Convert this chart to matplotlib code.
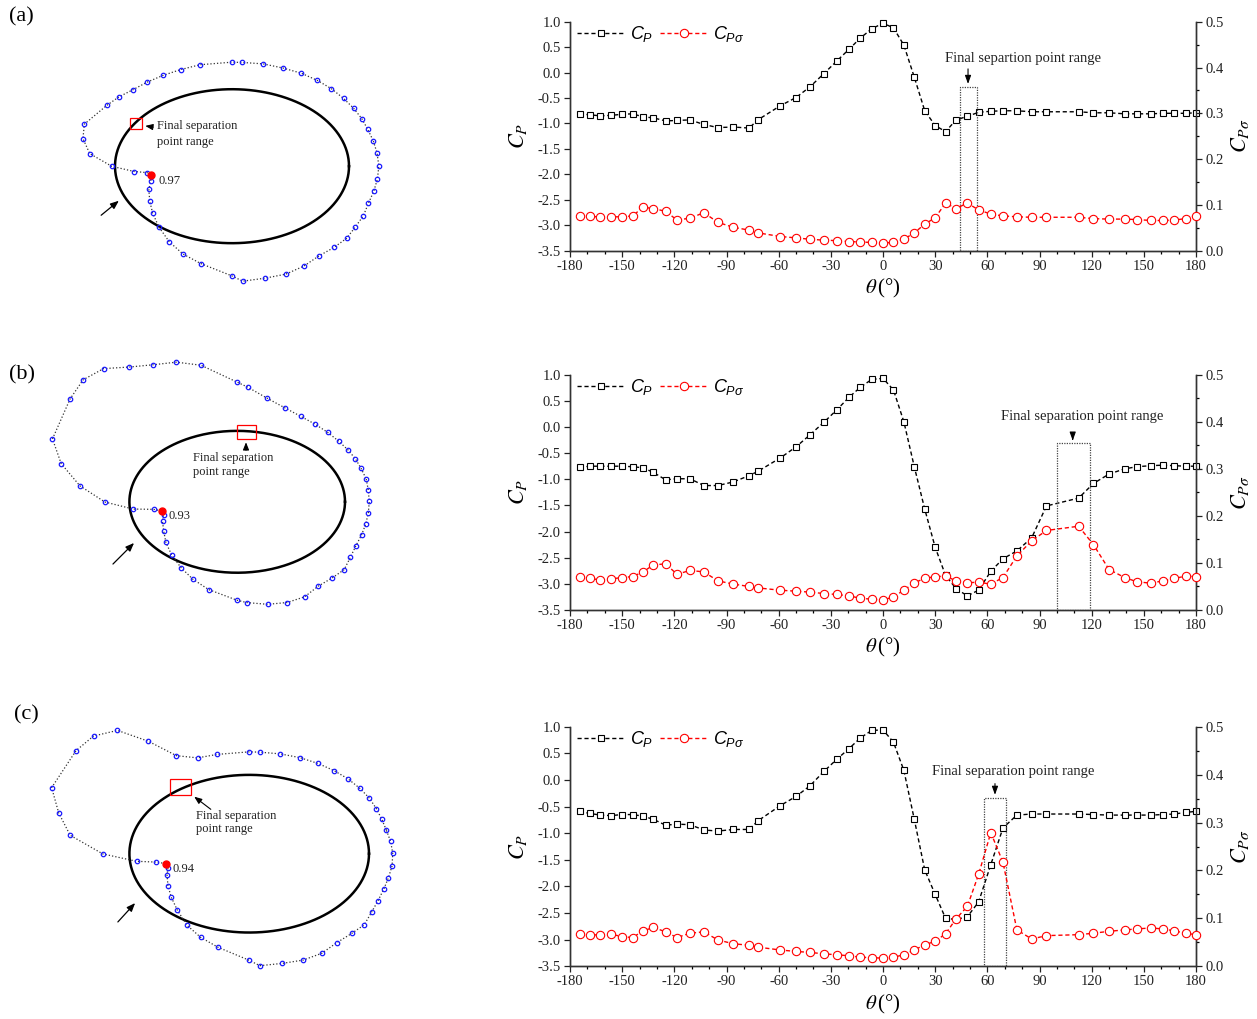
import numpy as np
import matplotlib
matplotlib.use("Agg")
import matplotlib.pyplot as plt
from matplotlib.patches import Rectangle
from matplotlib.font_manager import FontProperties

plt.rcParams['font.family'] = ['Liberation Serif', 'DejaVu Serif']
plt.rcParams['mathtext.fontset'] = 'custom'
plt.rcParams['mathtext.it'] = 'Liberation Sans:italic'
plt.rcParams['mathtext.rm'] = 'Liberation Sans'
plt.rcParams['axes.unicode_minus'] = False

# ---------------- data ----------------
theta = [-174.5, -168.5, -162.5, -156.5, -150, -144, -138, -132, -125, -118.5, -111, -103,
         -95, -86, -77, -72, -59, -50, -42, -34, -26.5, -19.5, -13, -6.5, 0,
         6, 12, 18, 24, 30, 36, 42, 48.5, 55, 62, 69, 77, 85.5, 94, 112.5, 121, 130,
         139, 146, 154, 161, 167.5, 174, 180]

# parametric angle (deg) of each pressure tap on the elliptic section
tap_angle = [12.2, 6.2, 0.2, 354.0, 347.8, 341.7, 335.3, 329.0, 322.6, 315.7, 308.0, 300.3,
             292.1, 283.5, 274.3, 269.9, 256.3, 247.6, 239.6, 231.6, 224.2, 217.5, 210.3, 205.3,
             198.8, 191.8, 186.3, 180.1, 173.8, 167.8, 161.9, 149.4, 142.7, 135.7, 128.4, 120.6,
             112.3, 103.7, 90.1, 85.6, 76.8, 68.1, 59.7, 51.8, 44.4, 37.2, 30.6, 24.3, 18.4]

cp_a = [-0.81, -0.83, -0.85, -0.84, -0.82, -0.81, -0.87, -0.89, -0.95, -0.94, -0.93, -1.02,
        -1.08, -1.07, -1.09, -0.93, -0.65, -0.49, -0.28, -0.02, 0.23, 0.46, 0.68, 0.86, 0.97,
        0.88, 0.54, -0.09, -0.75, -1.04, -1.16, -0.93, -0.86, -0.78, -0.76, -0.75, -0.75, -0.77,
        -0.77, -0.77, -0.79, -0.79, -0.81, -0.81, -0.81, -0.80, -0.80, -0.80, -0.79]
cps_a = [0.076, 0.075, 0.0735, 0.074, 0.074, 0.076, 0.095, 0.092, 0.086, 0.067, 0.071, 0.083,
         0.062, 0.051, 0.045, 0.039, 0.031, 0.028, 0.025, 0.023, 0.022, 0.020, 0.019, 0.018, 0.017,
         0.018, 0.025, 0.039, 0.058, 0.072, 0.104, 0.092, 0.104, 0.089, 0.080, 0.076, 0.074, 0.073,
         0.073, 0.073, 0.070, 0.069, 0.069, 0.068, 0.066, 0.066, 0.067, 0.070, 0.076]

cp_b = [-0.77, -0.75, -0.75, -0.75, -0.75, -0.76, -0.78, -0.87, -1.01, -0.99, -0.99, -1.12,
        -1.12, -1.05, -0.93, -0.85, -0.59, -0.38, -0.15, 0.09, 0.33, 0.57, 0.76, 0.91, 0.93,
        0.71, 0.10, -0.76, -1.57, -2.30, -2.84, -3.09, -3.23, -3.12, -2.76, -2.52, -2.37, -2.12,
        -1.51, -1.36, -1.08, -0.90, -0.80, -0.76, -0.74, -0.73, -0.74, -0.75, -0.75]
cps_b = [0.070, 0.067, 0.064, 0.066, 0.069, 0.071, 0.081, 0.096, 0.098, 0.076, 0.084, 0.081,
         0.062, 0.055, 0.050, 0.047, 0.042, 0.040, 0.038, 0.035, 0.033, 0.030, 0.025, 0.023, 0.021,
         0.028, 0.042, 0.058, 0.067, 0.071, 0.072, 0.062, 0.058, 0.059, 0.055, 0.069, 0.115, 0.147,
         0.169, 0.178, 0.139, 0.086, 0.069, 0.060, 0.057, 0.062, 0.067, 0.072, 0.071]

cp_c = [-0.59, -0.63, -0.66, -0.67, -0.65, -0.65, -0.68, -0.74, -0.85, -0.83, -0.84, -0.94,
        -0.96, -0.93, -0.93, -0.77, -0.48, -0.31, -0.11, 0.16, 0.39, 0.59, 0.79, 0.93, 0.94,
        0.71, 0.18, -0.74, -1.69, -2.15, -2.60, -2.62, -2.57, -2.29, -1.59, -0.90, -0.66, -0.64,
        -0.64, -0.64, -0.65, -0.66, -0.66, -0.66, -0.66, -0.65, -0.64, -0.61, -0.59]
cps_c = [0.067, 0.065, 0.066, 0.067, 0.062, 0.060, 0.074, 0.081, 0.072, 0.060, 0.069, 0.072,
         0.055, 0.047, 0.044, 0.040, 0.034, 0.031, 0.029, 0.026, 0.024, 0.022, 0.019, 0.018, 0.017,
         0.019, 0.024, 0.034, 0.045, 0.052, 0.068, 0.099, 0.125, 0.192, 0.279, 0.217, 0.076, 0.057,
         0.064, 0.066, 0.069, 0.073, 0.076, 0.078, 0.080, 0.078, 0.074, 0.069, 0.066]

sep_range_a = (44.5, 54.0)
sep_range_b = (100.0, 119.0)
sep_range_c = (58.3, 70.8)
sep_texts = ["Final separtion point range", "Final separation point range",
             "Final separation point range"]
panel_labels = ["(a)", "(b)", "(c)"]

# ---------------- figure ----------------
W, H = 1257, 1019
fig = plt.figure(figsize=(W / 100, H / 100), dpi=100)

B = 0.658   # minor/major axis ratio of the section
K = 0.30    # radial scale of Cp in the left diagrams


def left_panel(box, center, a_px, cp, label, sq, sq_arrow, txt_pos, flow, lsp):
    x0, y0, x1, y1 = box
    cx, cy = center
    ax = fig.add_axes([x0 / W, 1 - y1 / H, (x1 - x0) / W, (y1 - y0) / H])
    ax.set_xlim((x0 - cx) / a_px, (x1 - cx) / a_px)
    ax.set_ylim((cy - y1) / a_px, (cy - y0) / a_px)
    ax.axis('off')

    def d(x, y):
        return ((x - cx) / a_px, (cy - y) / a_px)

    s = np.linspace(0, 2 * np.pi, 400)
    ax.plot(np.cos(s), B * np.sin(s), color='black', lw=1.8, zorder=2)
    t = np.radians(tap_angle)
    c = np.array(cp)
    nx, ny = np.cos(t), np.sin(t) / B
    nn = np.hypot(nx, ny)
    X = np.cos(t) - K * c * nx / nn
    Y = B * np.sin(t) - K * c * ny / nn
    ax.plot(np.r_[X, X[0]], np.r_[Y, Y[0]], ls=':', color='#333333', lw=0.9, zorder=3)
    ax.plot(X, Y, ls='none', marker='o', ms=3.2, mfc='none', mec='#1a1aff', mew=0.9, zorder=4)
    i0 = theta.index(0)
    ax.plot(X[i0], Y[i0], 'o', color='red', ms=5, zorder=5)
    ax.annotate("%.2f" % cp[i0], (X[i0], Y[i0]), xytext=(5, -4), textcoords='offset points',
                fontsize=9, va='center', ha='left', color='#222222')
    (sx0, sy0), (sx1, sy1) = d(sq[0], sq[1]), d(sq[2], sq[3])
    ax.add_patch(Rectangle((sx0, sy1), sx1 - sx0, sy0 - sy1, fill=False, ec='red', lw=0.9, zorder=6))
    ax.annotate('', xy=d(*sq_arrow[1]), xytext=d(*sq_arrow[0]),
                arrowprops=dict(arrowstyle='-|>,head_length=0.45,head_width=0.18', color='black', lw=0.8))
    ax.text(*d(*txt_pos), "Final separation\npoint range", fontsize=9, ha='left', va='top',
            linespacing=lsp, color='#222222')
    ax.annotate('', xy=d(*flow[1]), xytext=d(*flow[0]),
                arrowprops=dict(arrowstyle='-|>,head_length=0.5,head_width=0.2', color='black', lw=0.9))
    fig.text(label[1] / W, 1 - label[2] / H, label[0], fontsize=16, ha='left', va='center')


def right_panel(top, bot, cp, cps, rng, sep_text, arrow_x, arrow_y0, text_x, text_y):
    ax = fig.add_axes([570 / W, 1 - bot / H, 626 / W, (bot - top) / H])
    ax2 = ax.twinx()
    for a_ in (ax, ax2):
        a_.spines['top'].set_visible(False)
        for sp in a_.spines.values():
            sp.set_linewidth(1.0)
            sp.set_color('#333333')
        a_.set_facecolor('none')
    ax.set_xlim(-180, 180)
    ax.set_ylim(-3.5, 1.0)
    ax2.set_ylim(0.0, 0.5)
    ax.set_xticks(np.arange(-180, 181, 30))
    ax.set_xticks(np.arange(-180, 181, 10), minor=True)
    ax.set_yticks(np.arange(-3.5, 1.01, 0.5))
    ax.set_yticklabels(["%.1f" % v for v in np.arange(-3.5, 1.01, 0.5)])
    ax2.set_yticks(np.arange(0, 0.51, 0.1))
    ax2.set_yticks(np.arange(0, 0.51, 0.05), minor=True)
    ax2.set_yticklabels(["%.1f" % v for v in np.arange(0, 0.51, 0.1)])
    for a_ in (ax, ax2):
        a_.tick_params(which='major', direction='out', length=4.5, width=0.9, labelsize=10.5,
                       colors='#222222', pad=2)
        a_.tick_params(which='minor', direction='out', length=2.5, width=0.9)
    ax.tick_params(axis='y', which='minor', left=False)

    l1, = ax.plot(theta, cp, ls=(0, (3, 2)), color='black', lw=1.0, marker='s', ms=5,
                  mfc='white', mec='black', mew=0.8, zorder=3, clip_on=False)
    l2, = ax2.plot(theta, cps, ls=(0, (3, 2)), color='red', lw=1.0, marker='o', ms=6,
                   mfc='white', mec='red', mew=0.8, zorder=3, clip_on=False)
    ax.set_ylabel(r'$C_P$', fontsize=16, math_fontfamily='stix', labelpad=6)
    ax2.set_ylabel(r'$C_{P\sigma}$', fontsize=16, math_fontfamily='stix', labelpad=4)
    ax.set_xlabel(r'$\theta\,$(°)', fontsize=15, math_fontfamily='stix', labelpad=3)

    lp = FontProperties(family='Liberation Sans', size=13, math_fontfamily='custom')
    ax2.legend([l1, l2], [r'$C_P$', r'$C_{P\sigma}$'], loc='upper left', ncol=2, frameon=False,
               prop=lp, handlelength=2.6, handletextpad=0.3, columnspacing=0.4,
               borderaxespad=0.0, bbox_to_anchor=(0.0, 1.02), numpoints=1)

    h = arrow_y0[1]
    ax2.add_patch(Rectangle((rng[0], 0), rng[1] - rng[0], h, fill=False, ls=(0, (1, 1)),
                            lw=0.9, ec='#444444', zorder=2))
    ax2.annotate('', xy=(arrow_x, h), xytext=(arrow_x, arrow_y0[0]),
                 arrowprops=dict(arrowstyle='-|>,head_length=0.5,head_width=0.18', color='black', lw=0.8))
    ax2.text(text_x, text_y, sep_text, fontsize=10.5, ha='center', va='center', color='#222222')


# (a)
left_panel((0, 0, 480, 330), (232, 166.2), 117.0, cp_a, (panel_labels[0], 9, 17),
           (130, 118, 141.5, 128.5), ((156, 127.5), (142.5, 125.5)), (157, 120), ((99, 217), (121, 199)), 1.4)
right_panel(21.7, 250.7, cp_a, cps_a, sep_range_a, sep_texts[0], 48.9, (0.403, 0.358), 80.5, 0.4186)
# (b)
left_panel((0, 340, 480, 700), (237.2, 501.8), 107.8, cp_b, (panel_labels[1], 9, 375),
           (237, 425, 256, 439), ((246, 453), (246, 439.5)), (193, 452), ((111, 566), (136, 541)), 1.2)
right_panel(374.7, 610.0, cp_b, cps_b, sep_range_b, sep_texts[1], 109.1, (0.372, 0.354), 114.3, 0.412)
# (c)
left_panel((0, 690, 480, 1019), (249.2, 853.7), 119.8, cp_c, (panel_labels[2], 14, 715),
           (170, 779, 191, 794.5), ((213, 811), (192, 795)), (196, 809.5), ((116, 924), (137, 901)), 1.2)
right_panel(726.7, 966.3, cp_c, cps_c, sep_range_c, sep_texts[2], 64.4, (0.387, 0.352), 74.8, 0.4055)

fig.savefig("out.png", dpi=100)
